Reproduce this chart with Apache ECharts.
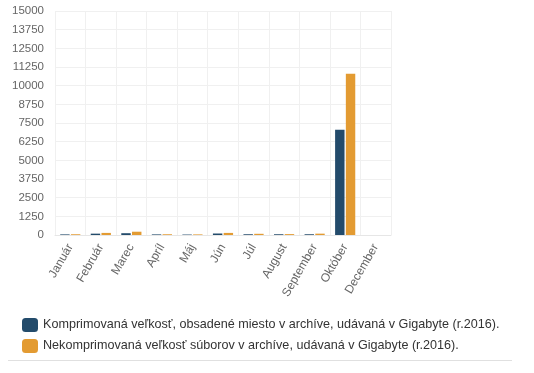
<!DOCTYPE html>
<html><head><meta charset="utf-8">
<script src="https://cdn.jsdelivr.net/npm/echarts@6/dist/echarts.min.js"></script>
<style>html,body{margin:0;padding:0;background:#fff}#c{width:534px;height:373px}</style>
</head><body><div id="c"></div>
<script>
const categories = ["Január","Február","Marec","Apríl","Máj","Jún","Júl","August","September","Október","December"];
const compressed = [40, 90, 120, 40, 30, 100, 50, 50, 50, 7050, 0];
const uncompressed = [50, 140, 220, 50, 40, 140, 80, 60, 90, 10800, 0];
const seriesNames = ["Komprimovaná veľkosť, obsadené miesto v archíve, udávaná v Gigabyte (r.2016).",
                     "Nekomprimovaná veľkosť súborov v archíve, udávaná v Gigabyte (r.2016)."];
const yMax = 15000, yStep = 1250;

const chart = echarts.init(document.getElementById('c'), null, {renderer:'canvas'});
chart.setOption({
  animation:false,
  textStyle:{fontFamily:'Liberation Sans, Arial, sans-serif'},
  grid:{left:55, right:143, top:11, bottom:138, containLabel:false},
  legend:{
    orient:'vertical', left:17, top:313, itemWidth:16, itemHeight:14, itemGap:7,
    icon:'roundRect',
    textStyle:{fontSize:12.6, color:'#333', fontFamily:'Liberation Sans, Arial, sans-serif'},
    data:seriesNames
  },
  xAxis:{
    type:'category', data:categories,
    axisLine:{show:true, lineStyle:{color:'#e6e6e6'}},
    axisTick:{show:false},
    splitLine:{show:true, lineStyle:{color:'#f0f0f0'}},
    axisLabel:{rotate:60, fontSize:12, color:'#666', margin:10, interval:0}
  },
  yAxis:{
    type:'value', min:0, max:yMax, interval:yStep,
    axisLine:{show:false}, axisTick:{show:false},
    splitLine:{lineStyle:{color:'#f0f0f0'}},
    axisLabel:{fontSize:11.5, color:'#666', margin:11, formatter:(v)=>String(v)}
  },
  series:[
    {name:seriesNames[0], type:'bar', data:compressed, barGap:'14%', barCategoryGap:'34%',
     itemStyle:{color:'#234b6b'}},
    {name:seriesNames[1], type:'bar', data:uncompressed,
     itemStyle:{color:'#e39b32'}}
  ],
  graphic:[{type:'line', shape:{x1:8, y1:360.5, x2:512, y2:360.5}, style:{stroke:'#e0e0e0', lineWidth:1}}]
});
</script></body></html>
